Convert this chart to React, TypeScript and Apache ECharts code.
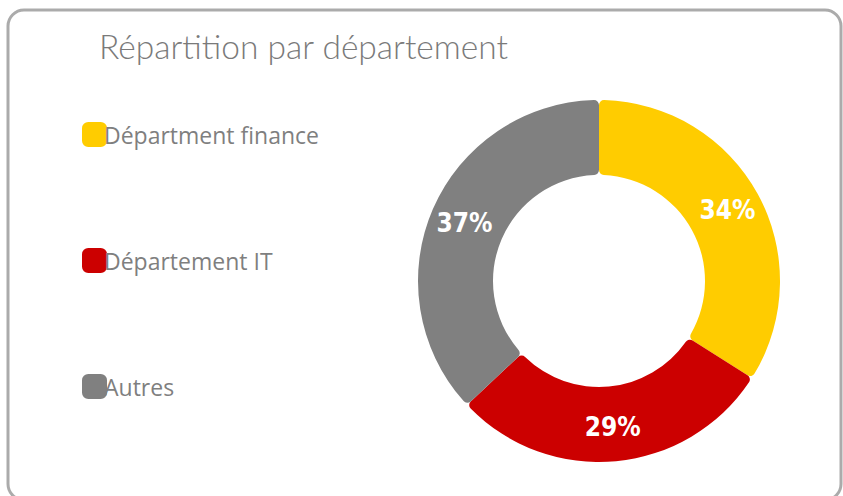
import React, { useEffect, useRef } from "react";
import * as echarts from "echarts";

const titleText = "Répartition par département";
const categories = ["Départment finance", "Département IT", "Autres"];
const values = [34, 29, 37];
const colors = ["#FFCC00", "#CC0000", "#808080"];

export default function App() {
  const ref = useRef<HTMLDivElement>(null);
  useEffect(() => {
    document.body.style.margin = "0";
    const chart = echarts.init(ref.current!, null, { renderer: "svg" });
    chart.setOption({
      animation: false,
      backgroundColor: "#ffffff",
      title: {
        text: titleText,
        left: 94,
        top: 24,
        textStyle: {
          fontFamily: "Lato",
          fontWeight: 300,
          fontSize: 33.5,
          color: "#7a7a7a",
        },
      },
      legend: {
        orient: "vertical",
        left: 77,
        top: 117,
        itemWidth: 25,
        itemHeight: 25,
        itemGap: 101,
        icon: "roundRect",
        textStyle: {
          fontFamily: "Open Sans",
          fontSize: 23,
          color: "#7f7f7f",
          padding: [0, 0, 0, -8],
        },
        data: categories,
      },
      graphic: [
        {
          type: "rect",
          shape: { x: 8, y: 10, width: 833, height: 490, r: 16 },
          style: { fill: "none", stroke: "#ababab", lineWidth: 3 },
          silent: true,
        },
      ],
      series: [
        {
          type: "pie",
          center: [599, 281],
          radius: [106, 181],
          startAngle: 90,
          clockwise: true,
          itemStyle: { borderRadius: 5 },
          label: {
            show: true,
            position: "inside",
            formatter: "{c}%",
            fontFamily: "DejaVu Sans Condensed",
            fontWeight: "bold",
            fontSize: 26,
            color: "#ffffff",
          },
          labelLine: { show: false },
          emphasis: { disabled: true },
          data: categories.map((name, i) => ({
            name,
            value: values[i],
            itemStyle: { color: colors[i] },
          })),
        },
      ],
    });
    return () => chart.dispose();
  }, []);
  return (
    <div
      ref={ref}
      style={{ position: "absolute", left: 0, top: 0, width: 843, height: 496 }}
    />
  );
}
